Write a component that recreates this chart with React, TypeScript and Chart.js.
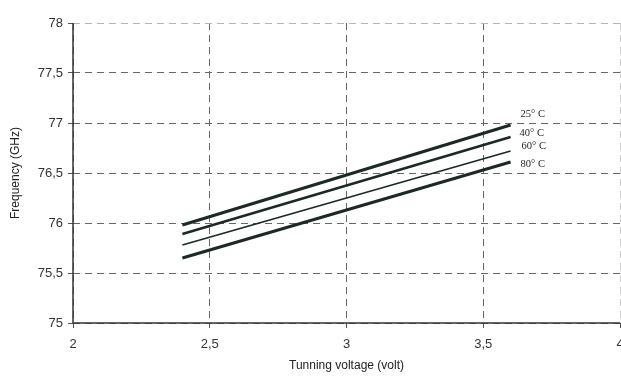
import React, { useEffect, useRef } from "react";
import { Chart, registerables } from "chart.js";

Chart.register(...registerables);

const seriesLabels = ["25° C", "40° C", "60° C", "80° C"];
const voltages = [2.4, 3.6];
const freq25 = [75.98, 76.98];
const freq40 = [75.89, 76.86];
const freq60 = [75.78, 76.72];
const freq80 = [75.65, 76.61];
const xTicks = [2, 2.5, 3, 3.5, 4];
const yTicks = [75, 75.5, 76, 76.5, 77, 77.5, 78];

const lineWidths = [3, 2.6, 1.8, 3];
const labelOffsets = [
  [10, -11],
  [9, -4],
  [11, -5],
  [10, 2],
];

const fmt = (v: number) => String(v).replace(".", ",");

const endLabels = {
  id: "endLabels",
  afterDatasetsDraw(chart: any) {
    const ctx = chart.ctx;
    ctx.save();
    ctx.font = "10.5px 'Liberation Serif', 'DejaVu Serif', serif";
    ctx.fillStyle = "#222";
    ctx.textBaseline = "middle";
    ctx.textAlign = "left";
    chart.data.datasets.forEach((ds: any, i: number) => {
      const meta = chart.getDatasetMeta(i);
      const pt = meta.data[meta.data.length - 1];
      ctx.fillText(seriesLabels[i], pt.x + labelOffsets[i][0], pt.y + labelOffsets[i][1]);
    });
    ctx.restore();
  },
};

const solidAxes = {
  id: "solidAxes",
  beforeDatasetsDraw(chart: any) {
    const { ctx, scales } = chart;
    const x0 = scales.x.getPixelForValue(2);
    const x1 = scales.x.getPixelForValue(4);
    const y0 = scales.y.getPixelForValue(75);
    const y1 = scales.y.getPixelForValue(78);
    ctx.save();
    ctx.setLineDash([]);
    ctx.strokeStyle = "#333";
    ctx.lineWidth = 1.5;
    ctx.beginPath();
    ctx.moveTo(x0, y1);
    ctx.lineTo(x0, y0);
    ctx.lineTo(x1, y0);
    ctx.stroke();
    ctx.restore();
  },
};

export default function App() {
  const ref = useRef<HTMLCanvasElement>(null);
  useEffect(() => {
    document.body.style.margin = "0";
    const all = [freq25, freq40, freq60, freq80];
    const chart = new Chart(ref.current!, {
      type: "line",
      data: {
        datasets: all.map((arr, i) => ({
          label: seriesLabels[i],
          data: voltages.map((v, j) => ({ x: v, y: arr[j] })),
          borderColor: "#1c2a24",
          borderWidth: lineWidths[i],
          pointRadius: 0,
          fill: false,
        })),
      },
      options: {
        animation: false,
        responsive: false,
        layout: { autoPadding: false, padding: { top: 23, right: 1, left: 0, bottom: 0 } },
        plugins: { legend: { display: false }, tooltip: { enabled: false } },
        scales: {
          x: {
            type: "linear",
            min: 2,
            max: 4,
            afterBuildTicks: (s: any) => {
              s.ticks = xTicks.map((v) => ({ value: v }));
            },
            afterFit: (s: any) => {
              s.height = 53;
              s.paddingLeft = 0;
              s.paddingRight = 0;
            },
            ticks: {
              callback: (v: any) => fmt(v),
              color: "#333",
              font: { family: "'Liberation Sans', Arial, sans-serif", size: 13 },
              padding: 9,
              maxRotation: 0,
            },
            grid: {
              color: (c: any) => (c.tick && c.tick.value === 4 ? "#cfcfcf" : "#666"),
              tickLength: 5,
              tickBorderDash: [],
              tickColor: "#555",
              lineWidth: 1,
            },
            border: { display: false, dash: [7, 5] },
            title: {
              display: true,
              text: "Tunning voltage (volt)",
              color: "#222",
              font: { family: "'Liberation Sans', Arial, sans-serif", size: 12 },
              padding: { top: 0, bottom: 3 },
            },
          },
          y: {
            type: "linear",
            min: 75,
            max: 78,
            afterBuildTicks: (s: any) => {
              s.ticks = yTicks.map((v) => ({ value: v }));
            },
            afterFit: (s: any) => {
              s.width = 73;
              s.paddingTop = 0;
              s.paddingBottom = 0;
            },
            ticks: {
              callback: (v: any) => fmt(v),
              color: "#333",
              font: { family: "'Liberation Sans', Arial, sans-serif", size: 13 },
              padding: 5,
            },
            grid: {
              color: (c: any) => (c.tick && c.tick.value === 78 ? "#b5b5b5" : "#666"),
              tickLength: 5,
              tickBorderDash: [],
              tickColor: "#555",
              lineWidth: 1,
            },
            border: { display: false, dash: [7, 5] },
            title: {
              display: true,
              text: "Frequency (GHz)",
              color: "#222",
              font: { family: "'Liberation Sans', Arial, sans-serif", size: 12 },
              padding: { top: 8, bottom: 0 },
            },
          },
        },
      },
      plugins: [solidAxes, endLabels],
    });
    return () => chart.destroy();
  }, []);
  return (
    <div style={{ width: 621, height: 376, overflow: "hidden" }}>
      <canvas ref={ref} width={621} height={376} style={{ display: "block" }} />
    </div>
  );
}
